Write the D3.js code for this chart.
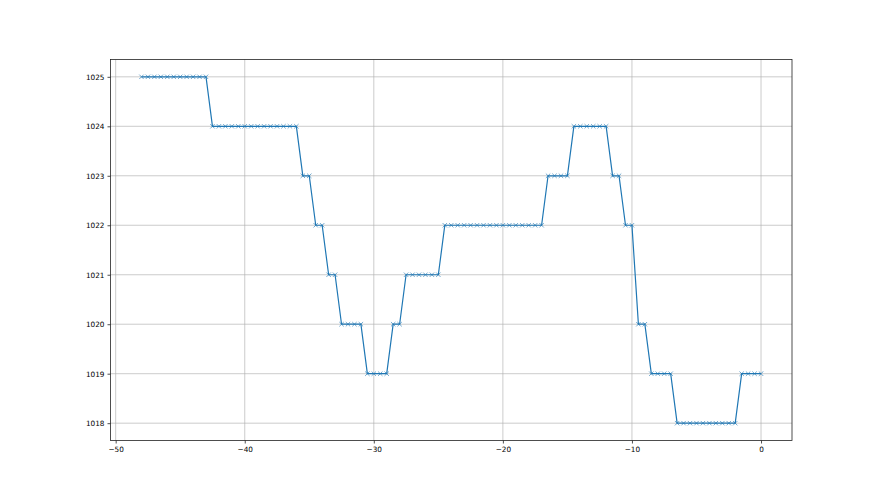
<!DOCTYPE html>
<html><head><meta charset="utf-8">
<script src="https://cdn.jsdelivr.net/npm/d3@7"></script>
<style>body{margin:0;background:#fff;}svg{display:block;}</style>
</head><body>
<svg id="c" width="880" height="495"></svg>
<script>
const xValues = [-48,-47.5,-47,-46.5,-46,-45.5,-45,-44.5,-44,-43.5,-43,
 -42.5,-42,-41.5,-41,-40.5,-40,-39.5,-39,-38.5,-38,-37.5,-37,-36.5,-36,
 -35.5,-35,-34.5,-34,-33.5,-33,-32.5,-32,-31.5,-31,-30.5,-30,-29.5,-29,
 -28.5,-28,-27.5,-27,-26.5,-26,-25.5,-25,
 -24.5,-24,-23.5,-23,-22.5,-22,-21.5,-21,-20.5,-20,-19.5,-19,-18.5,-18,-17.5,-17,
 -16.5,-16,-15.5,-15,-14.5,-14,-13.5,-13,-12.5,-12,-11.5,-11,-10.5,-10,
 -9.5,-9,-8.5,-8,-7.5,-7,-6.5,-6,-5.5,-5,-4.5,-4,-3.5,-3,-2.5,-2,-1.5,-1,-0.5,0];
const pressure = [1025,1025,1025,1025,1025,1025,1025,1025,1025,1025,1025,
 1024,1024,1024,1024,1024,1024,1024,1024,1024,1024,1024,1024,1024,1024,
 1023,1023,1022,1022,1021,1021,1020,1020,1020,1020,1019,1019,1019,1019,
 1020,1020,1021,1021,1021,1021,1021,1021,
 1022,1022,1022,1022,1022,1022,1022,1022,1022,1022,1022,1022,1022,1022,1022,1022,
 1023,1023,1023,1023,1024,1024,1024,1024,1024,1024,1023,1023,1022,1022,
 1020,1020,1019,1019,1019,1019,1018,1018,1018,1018,1018,1018,1018,1018,1018,1018,1019,1019,1019,1019];
const xTicks = [-50,-40,-30,-20,-10,0];
const yTicks = [1018,1019,1020,1021,1022,1023,1024,1025];

const svg = d3.select("#c");
const L=110.5, R=792, T=59.5, B=440.5;
const x = d3.scaleLinear().domain([-50.4, 2.4]).range([L, R]);
const y = d3.scaleLinear().domain([1017.65, 1025.35]).range([B, T]);

// grid
svg.append("g").selectAll("line").data(xTicks).join("line")
  .attr("x1", d=>x(d)).attr("x2", d=>x(d)).attr("y1", T).attr("y2", B)
  .attr("stroke", "#b0b0b0").attr("stroke-width", 0.8).attr("opacity",0.8);
svg.append("g").selectAll("line").data(yTicks).join("line")
  .attr("y1", d=>y(d)).attr("y2", d=>y(d)).attr("x1", L).attr("x2", R)
  .attr("stroke", "#b0b0b0").attr("stroke-width", 0.8).attr("opacity",0.8);

const fmt = d => d < 0 ? "\u2212" + Math.abs(d) : String(d);
const xAxis = svg.append("g").attr("transform", `translate(0,${B})`)
  .call(d3.axisBottom(x).tickValues(xTicks).tickFormat(fmt).tickSize(3).tickPadding(3));
const yAxis = svg.append("g").attr("transform", `translate(${L},0)`)
  .call(d3.axisLeft(y).tickValues(yTicks).tickFormat(d3.format("d")).tickSize(3).tickPadding(3));
[xAxis, yAxis].forEach(a => {
  a.select(".domain").remove();
  a.selectAll("text").attr("font-family","DejaVu Sans").attr("font-size","7.3px").attr("fill","#000");
  a.selectAll(".tick line").attr("stroke","#222").attr("stroke-width",0.8);
});

// line
const pts = xValues.map((d,i)=>[d, pressure[i]]);
svg.append("path").datum(pts)
  .attr("d", d3.line().x(d=>x(d[0])).y(d=>y(d[1])))
  .attr("fill","none").attr("stroke","#1f77b4").attr("stroke-width",1.2);

// markers
const s = 2.2;
svg.append("g").selectAll("path").data(pts).join("path")
  .attr("d", d => { const cx=x(d[0]), cy=y(d[1]);
    return `M${cx-s},${cy-s}L${cx+s},${cy+s}M${cx-s},${cy+s}L${cx+s},${cy-s}`; })
  .attr("stroke","#1f77b4").attr("stroke-width",0.9).attr("opacity",0.7);

// frame
svg.append("rect").attr("x",L).attr("y",T).attr("width",R-L).attr("height",B-T)
  .attr("fill","none").attr("stroke","#222").attr("stroke-width",0.8);
</script>
</body></html>
